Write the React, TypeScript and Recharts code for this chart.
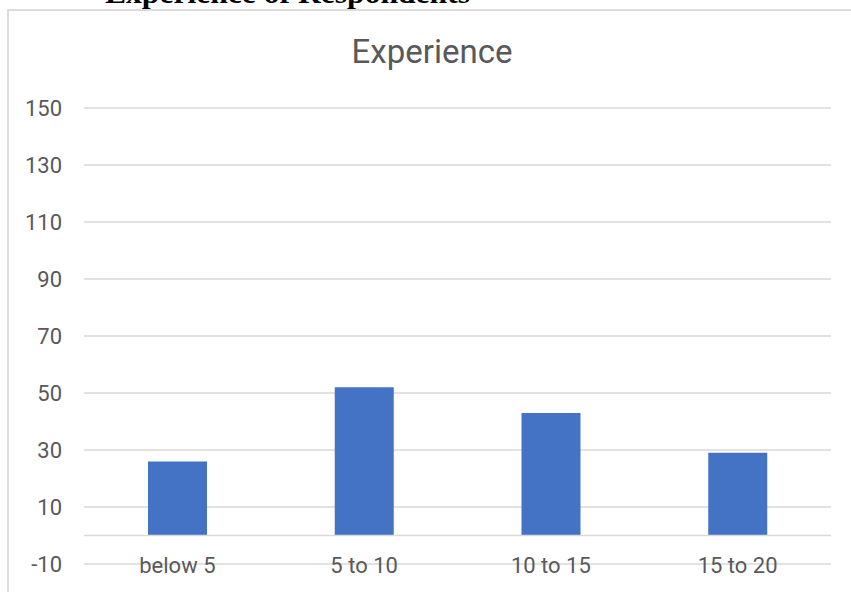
import { Bar, BarChart, CartesianGrid, ReferenceLine, XAxis, YAxis } from 'recharts';

// years of experience buckets and respondent counts
const categories = ['below 5', '5 to 10', '10 to 15', '15 to 20'];
const respondents = [26, 52, 43, 29];
const yTicks = [-10, 10, 30, 50, 70, 90, 110, 130, 150];

const data = categories.map((c, i) => ({ name: c, count: respondents[i] }));

const GRID = '#d9d9d9';
const TEXT = '#595959';
const BLUE = '#4472C4';
const FONT = 'Roboto, "Open Sans", sans-serif';

function CategoryTick(props: any) {
  const { x, y, payload } = props;
  return (
    <text x={x} y={y + 9} textAnchor="middle" fill={TEXT} fontSize={22} fontFamily={FONT}>
      {payload.value}
    </text>
  );
}

export default function App() {
  return (
    <div
      style={{
        position: 'absolute',
        left: 0,
        top: 0,
        width: 851,
        height: 592,
        overflow: 'hidden',
        background: '#fff',
      }}
    >
      <svg width={851} height={592} style={{ position: 'absolute', left: 0, top: 0 }}>
        <text
          x={105}
          y={3}
          fontFamily='"Liberation Serif", "Times New Roman", serif'
          fontWeight="bold"
          fontSize={30}
          textLength={365}
          lengthAdjust="spacingAndGlyphs"
          fill="#000"
        >
          Experience of Respondents
        </text>
        <rect x={8} y={10} width={900} height={700} fill="none" stroke={GRID} strokeWidth={1.8} />
        <text x={432} y={63} textAnchor="middle" fill={TEXT} fontSize={33} fontFamily={FONT}>
          Experience
        </text>
      </svg>
      <div style={{ position: 'absolute', left: 0, top: 0 }}>
        <BarChart
          width={851}
          height={592}
          data={data}
          margin={{ top: 108, right: 20, bottom: 0, left: 0 }}
          barSize={59}
        >
          <CartesianGrid vertical={false} stroke={GRID} strokeWidth={1.3} />
          <XAxis
            dataKey="name"
            axisLine={false}
            tickLine={false}
            tickSize={0}
            tickMargin={0}
            height={28}
            interval={0}
            tick={<CategoryTick />}
          />
          <YAxis
            width={84}
            domain={[-10, 150]}
            ticks={yTicks}
            interval={0}
            axisLine={false}
            tickLine={false}
            tickSize={0}
            tickMargin={22}
            tick={{ fill: TEXT, fontSize: 22, fontFamily: FONT }}
          />
          <ReferenceLine y={0} stroke={GRID} strokeWidth={1.5} />
          <Bar dataKey="count" fill={BLUE} isAnimationActive={false} />
        </BarChart>
      </div>
    </div>
  );
}
